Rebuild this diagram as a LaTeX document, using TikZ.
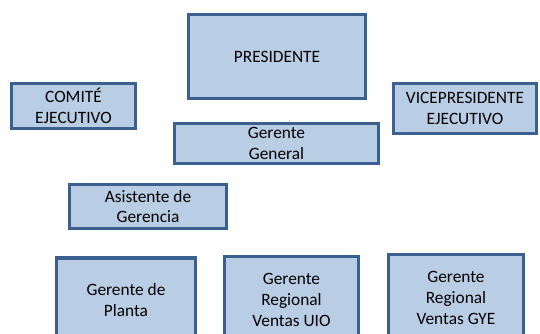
\documentclass[tikz,border=0pt]{standalone}
\usepackage{fontspec}
\setmainfont{Carlito}
\usepackage{tikz}
\usetikzlibrary{calc}
\definecolor{boxfill}{HTML}{B9CDE5}
\definecolor{boxline}{HTML}{3B6090}

\begin{document}
\begin{tikzpicture}[x=0.75pt,y=-0.75pt]
\tikzstyle{cargo}=[rectangle,draw=boxline,fill=boxfill,line width=2.3pt,align=center,inner sep=2pt,font=\fontsize{13pt}{15.5pt}\selectfont]
\useasboundingbox (0,0) rectangle (540,334);
\clip (0,0) rectangle (540,334);
\node[cargo,minimum width=177*0.75pt,minimum height=84*0.75pt] (P_0) at (277,56.5) {PRESIDENTE};
\node[cargo,minimum width=124*0.75pt,minimum height=45*0.75pt] (P_1) at (73.5,106) {COMITÉ\\EJECUTIVO};
\node[cargo,minimum width=143*0.75pt,minimum height=50*0.75pt] (P_2) at (465,108.5) {VICEPRESIDENTE\\EJECUTIVO};
\node[cargo,minimum width=204*0.75pt,minimum height=40*0.75pt] (P_3) at (276.5,143.5) {Gerente\\General};
\node[cargo,minimum width=157*0.75pt,minimum height=44*0.75pt] (P_4) at (148,206.5) {Asistente de\\Gerencia};
\node[cargo,minimum width=139*0.75pt,minimum height=84*0.75pt] (P_5) at (126,300) {Gerente de\\Planta};
\node[cargo,minimum width=134*0.75pt,minimum height=87*0.75pt] (P_6) at (291.5,300) {Gerente\\Regional\\Ventas UIO};
\node[cargo,minimum width=135*0.75pt,minimum height=87*0.75pt] (P_7) at (456,298) {Gerente\\Regional\\Ventas GYE};

\end{tikzpicture}
\end{document}
